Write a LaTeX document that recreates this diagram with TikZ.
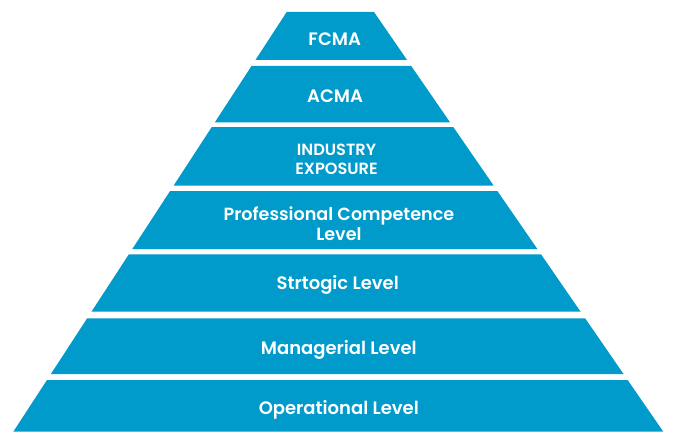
\documentclass[tikz,border=0pt]{standalone}
\usepackage{fontspec}
\setmainfont{Poppins}[UprightFont=* SemiBold]
\definecolor{pyrblue}{HTML}{009BCB}
\begin{document}
\begin{tikzpicture}[x=1pt,y=-1pt,
  band/.style={fill=pyrblue},
  lbl/.style={text=white,font=\fontsize{18}{20}\selectfont,anchor=base,inner sep=0pt,align=center}]
\useasboundingbox (0,0) rectangle (677,444);
\foreach \ya/\yb in {12/60,66/122.3,127/185.7,191/249,254.3/311.7,318.3/374,380/431.7}{
  \pgfmathsetmacro{\xla}{286.7-0.6514*(\ya-12)}
  \pgfmathsetmacro{\xlb}{286.7-0.6514*(\yb-12)}
  \pgfmathsetmacro{\xra}{374+0.6893*(\ya-12)}
  \pgfmathsetmacro{\xrb}{374+0.6893*(\yb-12)}
  \fill[band] (\xla,\ya) -- (\xra,\ya) -- (\xrb,\yb) -- (\xlb,\yb) -- cycle;
}
\node[lbl] (fcma) at (334.7,45.7) {FCMA};
\node[lbl] (acma) at (335,102.3) {ACMA};
\node[lbl,font=\fontsize{16.2}{19.3}\selectfont] (ind) at (336.5,174.3) {INDUSTRY\\EXPOSURE};
\node[lbl,font=\fontsize{17.6}{20}\selectfont] (prof) at (338.9,240.7) {Professional Competence\\Level};
\node[lbl] (str) at (337.7,289.3) {Strtogic Level};
\node[lbl] (man) at (338.8,354.3) {Managerial Level};
\node[lbl] (ope) at (338.8,414) {Operational Level};
\end{tikzpicture}
\end{document}
